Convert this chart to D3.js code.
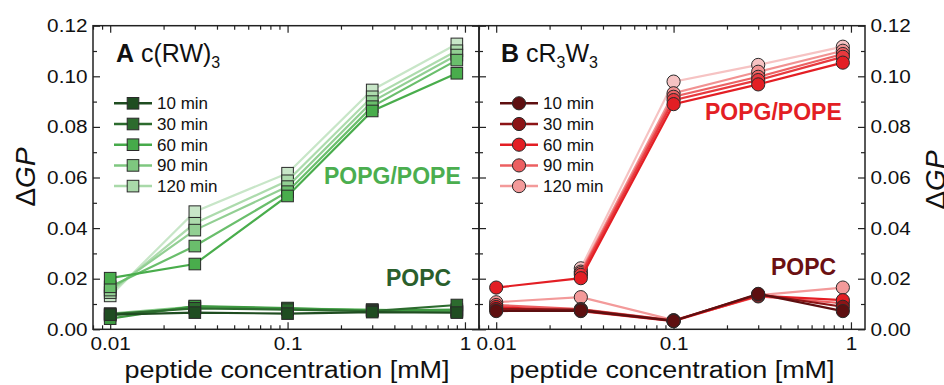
<!DOCTYPE html>
<html>
<head>
<meta charset="utf-8">
<script src="https://cdn.jsdelivr.net/npm/d3@7"></script>
<style>
  body { margin: 0; background: #fff; }
  text { font-family: "Liberation Sans", Arial, sans-serif; fill: #111; }
</style>
</head>
<body>
<div id="vis"></div>
<script>
// data
const CONC = [0.01, 0.03, 0.1, 0.3, 0.9];
const TIMES = ["10 min", "30 min", "60 min", "90 min", "120 min"];

// panel A, c(RW)3 - one row per time (10 .. 120 min)
const A_POPG = [
  [0.0202, 0.0258, 0.0527, 0.0863, 0.1012],
  [0.0168, 0.0329, 0.0544, 0.0880, 0.1064],
  [0.0155, 0.0392, 0.0564, 0.0900, 0.1084],
  [0.0145, 0.0419, 0.0587, 0.0919, 0.1101],
  [0.0132, 0.0465, 0.0617, 0.0946, 0.1128]
];
const A_POPC = [
  [0.0058, 0.0066, 0.0062, 0.0068, 0.0066],
  [0.0060, 0.0083, 0.0078, 0.0072, 0.0096],
  [0.0042, 0.0092, 0.0084, 0.0074, 0.0078],
  [0.0055, 0.0088, 0.0080, 0.0076, 0.0072],
  [0.0062, 0.0090, 0.0082, 0.0078, 0.0070]
];

// panel B, cR3W3
const B_POPG = [
  [0.0165, 0.0202, 0.0890, 0.0968, 0.1054],
  [null,   0.0215, 0.0906, 0.0985, 0.1077],
  [null,   0.0222, 0.0919, 0.0998, 0.1088],
  [null,   0.0228, 0.0933, 0.1018, 0.1101],
  [null,   0.0241, 0.0979, 0.1045, 0.1117]
];
const B_POPC = [
  [0.0072, 0.0074, 0.0033, 0.0140, 0.0072],
  [0.0080, 0.0078, 0.0034, 0.0138, 0.0089],
  [0.0088, 0.0072, 0.0032, 0.0133, 0.0115],
  [0.0096, 0.0080, 0.0035, 0.0130, 0.0103],
  [0.0107, 0.0127, 0.0036, 0.0135, 0.0165]
];

const Y_TICKS = [0, 0.02, 0.04, 0.06, 0.08, 0.10, 0.12];
const X_TICKS = [0.01, 0.1, 1];
const X_TICK_LABELS = ["0.01", "0.1", "1"];

// colours
const GREEN_LEG = ["#1f4d21", "#2c6b2e", "#46aa4a", "#7ec77f", "#a9d9a9"];
const GREEN_POPG = ["#49ad4c", "#6abe6c", "#92cf93", "#addbad", "#c8e6c8"];
const GREEN_POPC = ["#1f4d21", "#2c6b2e", "#3f9a42", "#5cb55f", "#86c987"];
const RED_LEG = ["#5e0f10", "#8c1416", "#e31e24", "#ec5f61", "#f39a9a"];
const RED_POPG = ["#e31e24", "#e8393e", "#ec6264", "#f19292", "#f6c3c3"];
const RED_POPC = ["#5e0f10", "#8c1416", "#e31e24", "#ec5f61", "#f39a9a"];

// frame
const FRAME_WIDTH = 944;
const FRAME_HEIGHT = 385;
const TOP = 25.7, BOTTOM = 329.3;

const SVG = d3.select("#vis")
  .append("svg")
    .attr("width", FRAME_WIDTH)
    .attr("height", FRAME_HEIGHT);

const Y_SCALE = d3.scaleLinear().domain([0, 0.12]).range([BOTTOM, TOP]);

const X_MINOR = [];
[0.001, 0.01, 0.1].forEach((d) => {
  for (let k = 2; k <= 9; k++) X_MINOR.push(d * k);
});
const Y_MINOR = [0.01, 0.03, 0.05, 0.07, 0.09, 0.11];

function drawPanel(cfg) {
  const X = d3.scaleLog().domain([0.008, 1.2]).range([cfg.left, cfg.right]);
  const xMinor = X_MINOR.filter((d) => d >= 0.008 && d <= 1.2);
  const g = SVG.append("g");

  // inward ticks on all four sides
  const bottomAx = g.append("g")
    .attr("transform", "translate(0," + BOTTOM + ")")
    .call(d3.axisBottom(X).tickValues(X_TICKS).tickSize(-7).tickPadding(8)
      .tickFormat((d, i) => X_TICK_LABELS[i]));
  bottomAx.selectAll("text").attr("transform", "scale(1.12,1)");
  g.append("g").attr("transform", "translate(0," + BOTTOM + ")")
    .call(d3.axisBottom(X).tickValues(xMinor).tickSize(-4).tickFormat(""));
  g.append("g").attr("transform", "translate(0," + TOP + ")")
    .call(d3.axisTop(X).tickValues(X_TICKS).tickSize(-7).tickFormat(""));
  g.append("g").attr("transform", "translate(0," + TOP + ")")
    .call(d3.axisTop(X).tickValues(xMinor).tickSize(-4).tickFormat(""));

  const leftAx = g.append("g").attr("transform", "translate(" + cfg.left + ",0)")
    .call(d3.axisLeft(Y_SCALE).tickValues(Y_TICKS).tickSize(-7).tickPadding(5)
      .tickFormat(cfg.leftLabels ? d3.format(".2f") : ""));
  leftAx.selectAll("text").attr("transform", "scale(1.12,1)");
  g.append("g").attr("transform", "translate(" + cfg.left + ",0)")
    .call(d3.axisLeft(Y_SCALE).tickValues(Y_MINOR).tickSize(-4).tickFormat(""));
  const rightAx = g.append("g").attr("transform", "translate(" + cfg.right + ",0)")
    .call(d3.axisRight(Y_SCALE).tickValues(Y_TICKS).tickSize(-7).tickPadding(5)
      .tickFormat(cfg.rightLabels ? d3.format(".2f") : ""));
  rightAx.selectAll("text").attr("transform", "scale(1.12,1)");
  g.append("g").attr("transform", "translate(" + cfg.right + ",0)")
    .call(d3.axisRight(Y_SCALE).tickValues(Y_MINOR).tickSize(-4).tickFormat(""));

  g.selectAll(".domain").remove();
  g.selectAll(".tick line").attr("stroke", "#222").attr("stroke-width", 1.2);
  g.selectAll(".tick text").attr("font-size", "18.5px")
    .attr("font-family", "Liberation Sans, Arial, sans-serif").attr("fill", "#111");

  // data
  const line = d3.line()
    .defined((d) => d[1] != null)
    .x((d) => X(d[0]))
    .y((d) => Y_SCALE(d[1]));

  function series(rows, colors) {
    // lightest first so the darkest ends on top
    for (let i = rows.length - 1; i >= 0; i--) {
      const pts = CONC.map((c, j) => [c, rows[i][j]]);
      g.append("path")
        .attr("d", line(pts))
        .attr("fill", "none")
        .attr("stroke", colors[i])
        .attr("stroke-width", 2.2);
      const valid = pts.filter((d) => d[1] != null);
      if (cfg.marker === "square") {
        g.selectAll(null).data(valid).enter().append("rect")
          .attr("x", (d) => X(d[0]) - 5.8)
          .attr("y", (d) => Y_SCALE(d[1]) - 5.8)
          .attr("width", 11.6).attr("height", 11.6)
          .attr("fill", colors[i])
          .attr("stroke", "#2a2a2a").attr("stroke-width", 1);
      } else {
        g.selectAll(null).data(valid).enter().append("circle")
          .attr("cx", (d) => X(d[0]))
          .attr("cy", (d) => Y_SCALE(d[1]))
          .attr("r", 6.6)
          .attr("fill", colors[i])
          .attr("stroke", "#2a2a2a").attr("stroke-width", 1);
      }
    }
  }
  series(cfg.popc, cfg.popcColors);
  series(cfg.popg, cfg.popgColors);

  // frame
  g.append("rect")
    .attr("x", cfg.left).attr("y", TOP)
    .attr("width", cfg.right - cfg.left).attr("height", BOTTOM - TOP)
    .attr("fill", "none").attr("stroke", "#222").attr("stroke-width", 1.5);

  // legend
  TIMES.forEach((t, i) => {
    const ly = 103.3 + i * 20.7;
    const lx = cfg.legX;
    g.append("line")
      .attr("x1", lx - 19).attr("x2", lx + 19)
      .attr("y1", ly).attr("y2", ly)
      .attr("stroke", cfg.legColors[i]).attr("stroke-width", 2.5);
    if (cfg.marker === "square") {
      g.append("rect")
        .attr("x", lx - 5.8).attr("y", ly - 5.8)
        .attr("width", 11.6).attr("height", 11.6)
        .attr("fill", cfg.legColors[i])
        .attr("stroke", "#2a2a2a").attr("stroke-width", 1);
    } else {
      g.append("circle")
        .attr("cx", lx).attr("cy", ly).attr("r", 6.6)
        .attr("fill", cfg.legColors[i])
        .attr("stroke", "#2a2a2a").attr("stroke-width", 1);
    }
    g.append("text")
      .attr("x", lx + 24).attr("y", ly + 6)
      .attr("font-size", "17px")
      .text(t);
  });

  // x title
  g.append("text")
    .attr("transform", "translate(" + cfg.titleX + ",378) scale(1.1,1)")
    .attr("text-anchor", "middle")
    .attr("font-size", "24.5px")
    .text("peptide concentration [mM]");

  // membrane labels
  g.append("text")
    .attr("x", cfg.popgLab[0]).attr("y", cfg.popgLab[1])
    .attr("font-size", "23px").attr("font-weight", "bold")
    .style("fill", cfg.popgLabColor)
    .text("POPG/POPE");
  g.append("text")
    .attr("x", cfg.popcLab[0]).attr("y", cfg.popcLab[1])
    .attr("font-size", "23px").attr("font-weight", "bold")
    .style("fill", cfg.popcLabColor)
    .text("POPC");

  return g;
}

const GA = drawPanel({
  left: 93, right: 479, marker: "square",
  popg: A_POPG, popc: A_POPC,
  popgColors: GREEN_POPG, popcColors: GREEN_POPC, legColors: GREEN_LEG,
  legX: 133, leftLabels: true, rightLabels: false, titleX: 287,
  popgLab: [324, 184], popgLabColor: "#4bae4f",
  popcLab: [386, 286], popcLabColor: "#2a5f2c"
});

const GB = drawPanel({
  left: 479, right: 865, marker: "circle",
  popg: B_POPG, popc: B_POPC,
  popgColors: RED_POPG, popcColors: RED_POPC, legColors: RED_LEG,
  legX: 519, leftLabels: false, rightLabels: true, titleX: 672,
  popgLab: [705, 120], popgLabColor: "#e31e24",
  popcLab: [771, 275], popcLabColor: "#6b1012"
});

// panel titles
const tA = GA.append("text").attr("x", 116).attr("y", 62).attr("font-size", "25px");
tA.append("tspan").attr("font-weight", "bold").text("A");
tA.append("tspan").text(" c(RW)");
tA.append("tspan").attr("font-size", "16px").attr("dy", 6).text("3");

const tB = GB.append("text").attr("x", 501).attr("y", 62).attr("font-size", "25px");
tB.append("tspan").attr("font-weight", "bold").text("B");
tB.append("tspan").text(" cR");
tB.append("tspan").attr("font-size", "16px").attr("dy", 6).text("3");
tB.append("tspan").attr("dy", -6).text("W");
tB.append("tspan").attr("font-size", "16px").attr("dy", 6).text("3");

// y titles
function yTitle(x, y) {
  const t = SVG.append("text")
    .attr("transform", "translate(" + x + "," + y + ") rotate(-90)")
    .attr("text-anchor", "middle")
    .attr("font-size", "28px");
  t.append("tspan").text("\u0394");
  t.append("tspan").attr("font-style", "italic").text("GP");
}
yTitle(35, 177);
yTitle(945, 180);
</script>
</body>
</html>
